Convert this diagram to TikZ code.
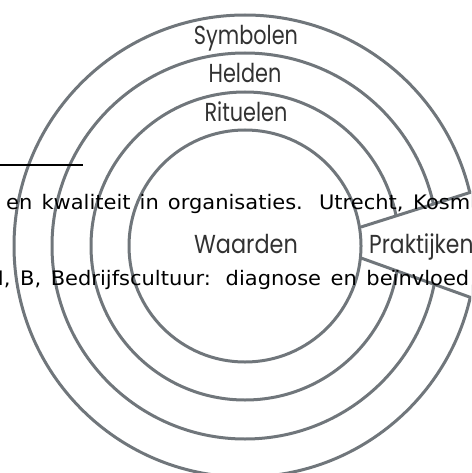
\documentclass[tikz,border=0pt]{standalone}
\usepackage{fontspec}
\newfontfamily\labfont{Poppins}
\newfontfamily\docfont{DejaVu Sans}
\definecolor{ring}{RGB}{112,118,123}
\definecolor{labtext}{RGB}{50,50,50}
\tikzset{
  x=1pt, y=-1pt,
  ringline/.style={draw=ring, line width=3pt},
  lab/.style={font=\labfont\fontsize{26}{26}\selectfont, text=labtext, inner sep=0pt},
  doctext/.style={font=\docfont\fontsize{20}{22}\selectfont, text=black, inner sep=0pt, anchor=base west},
}
\begin{document}
\begin{tikzpicture}
\useasboundingbox (0,0) rectangle (471,473);
\clip (0,0) rectangle (471,473);
% rings
\coordinate (c) at (245,246);
\draw[ringline] (c) circle[radius=154pt];
\draw[ringline] (c) circle[radius=193pt];
\draw[ringline] (c) circle[radius=231pt];
\coordinate (u0) at (361,227);
\coordinate (u1) at (500,183);
\coordinate (l0) at (361,258);
\coordinate (l1) at (500,308);
\fill[white] (u0) -- (u1) -- (l1) -- (l0) -- cycle;
\draw[ringline] (c) circle[radius=116pt];
\draw[ringline] (u0) -- (u1);
\draw[ringline] (l0) -- (l1);
% labels
\node[lab, anchor=base] (sym) at (246,45) {\scalebox{0.8}[1]{Symbolen}};
\node[lab, anchor=base] (hel) at (245,83) {\scalebox{0.8}[1]{Helden}};
\node[lab, anchor=base] (rit) at (246,122) {\scalebox{0.8}[1]{Rituelen}};
\node[lab, anchor=base] (waa) at (246,253) {\scalebox{0.86}[1]{Waarden}};
\node[lab, anchor=base west] (pra) at (369,253) {\scalebox{0.84}[1]{Praktijken}};
% background document text
\node[doctext] (line1) at (6,209) {\scalebox{1.05}[1]{\makebox[441.9pt][s]{en kwaliteit in organisaties. Utrecht, Kosm}}};
\node[doctext] (line2) at (-12,285) {\scalebox{1.05}[1]{\makebox[458.1pt][s]{N, B, Bedrijfscultuur: diagnose en beïnvloed}}};
\coordinate (r0) at (0,165);
\coordinate (r1) at (83,165);
\draw[line width=1.3pt] (r0) -- (r1);
\end{tikzpicture}
\end{document}
